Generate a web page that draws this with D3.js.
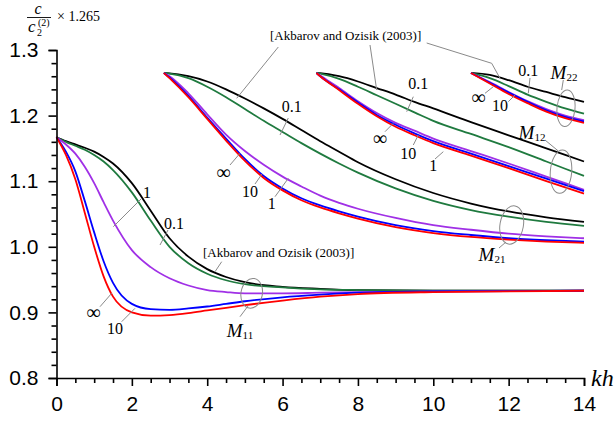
<!DOCTYPE html>
<html><head><meta charset="utf-8">
<script src="https://cdn.jsdelivr.net/npm/d3@7"></script>
<style>body{margin:0;background:#fff}svg{display:block}</style>
</head><body>
<svg id="chart" width="615" height="427"></svg>
<script>
// ---- data ----
const xTicks = [0,2,4,6,8,10,12,14];
const yTicks = [0.8,0.9,1.0,1.1,1.2,1.3];
const seriesNames = ["Akbarov and Ozisik (2003)","0.1","1","∞","10"];

// group M11
const khM11 = [0,0.25,0.5,0.75,1,1.25,1.5,2,2.5,3,3.5,4,4.5,5,6,7,8,10,14];
const m11Akbarov = [1.167,1.161,1.156,1.151,1.145,1.137,1.127,1.097,1.055,1.013,0.985,0.966,0.954,0.946,0.939,0.936,0.934,0.933,0.933];
const m11_01 = [1.167,1.160,1.154,1.148,1.140,1.130,1.117,1.083,1.040,1.000,0.975,0.959,0.949,0.943,0.938,0.935,0.934,0.933,0.933];
const m11_1 = [1.167,1.156,1.142,1.122,1.097,1.068,1.040,0.995,0.969,0.952,0.941,0.934,0.931,0.929,0.929,0.930,0.931,0.932,0.933];
const m11_inf = [1.167,1.145,1.115,1.070,1.022,0.978,0.945,0.913,0.905,0.904,0.906,0.909,0.913,0.917,0.923,0.927,0.930,0.932,0.933];
const m11_10 = [1.167,1.140,1.103,1.052,1.000,0.955,0.924,0.900,0.895,0.896,0.899,0.903,0.907,0.911,0.918,0.924,0.928,0.931,0.933];

// group M21
const khM21 = [2.85,3,3.5,4,4.5,5,5.5,6,6.5,7,7.5,8,9,10,11,12,13,14];
const m21Akbarov = [1.265,1.2645,1.260,1.252,1.240,1.226,1.211,1.195,1.178,1.161,1.145,1.129,1.103,1.082,1.066,1.054,1.045,1.038];
const m21_01 = [1.265,1.264,1.257,1.244,1.228,1.210,1.192,1.175,1.158,1.142,1.127,1.113,1.089,1.070,1.056,1.046,1.038,1.032];
const m21_1 = [1.265,1.260,1.234,1.202,1.171,1.146,1.125,1.107,1.092,1.078,1.067,1.058,1.044,1.033,1.026,1.020,1.016,1.013];
const m21_inf = [1.265,1.258,1.230,1.197,1.165,1.134,1.108,1.089,1.074,1.063,1.054,1.046,1.033,1.024,1.018,1.013,1.010,1.008];
const m21_10 = [1.265,1.257,1.228,1.195,1.162,1.131,1.105,1.086,1.071,1.060,1.051,1.043,1.030,1.021,1.015,1.011,1.008,1.006];

// group M12
const khM12 = [6.9,7,7.5,8,8.5,9,9.5,10,11,12,13,14];
const m12Akbarov = [1.265,1.2647,1.260,1.252,1.242,1.232,1.221,1.211,1.190,1.170,1.150,1.130];
const m12_01 = [1.265,1.264,1.256,1.244,1.231,1.218,1.205,1.192,1.172,1.152,1.130,1.108];
const m12_1 = [1.265,1.261,1.242,1.222,1.204,1.189,1.177,1.165,1.146,1.127,1.107,1.087];
const m12_inf = [1.265,1.260,1.240,1.220,1.201,1.186,1.173,1.161,1.142,1.123,1.104,1.085];
const m12_10 = [1.265,1.260,1.239,1.218,1.199,1.183,1.170,1.158,1.139,1.120,1.100,1.081];

// group M22
const khM22 = [11,11.5,12,12.5,13,13.5,14];
const m22Akbarov = [1.265,1.262,1.254,1.244,1.236,1.228,1.221];
const m22_01 = [1.265,1.257,1.245,1.232,1.221,1.211,1.203];
const m22_1 = [1.265,1.251,1.236,1.222,1.210,1.200,1.193];
const m22_inf = [1.265,1.250,1.235,1.221,1.208,1.198,1.191];
const m22_10 = [1.265,1.249,1.233,1.219,1.206,1.196,1.189];

const groups = [
  {kh: khM11, series: [m11Akbarov, m11_01, m11_1, m11_inf, m11_10]},
  {kh: khM21, series: [m21Akbarov, m21_01, m21_1, m21_inf, m21_10]},
  {kh: khM12, series: [m12Akbarov, m12_01, m12_1, m12_inf, m12_10]},
  {kh: khM22, series: [m22Akbarov, m22_01, m22_1, m22_inf, m22_10]}
];
const seriesColors = ["#000000","#1f7a3f","#a030e6","#0000ff","#ff0000"];

// ---- chart ----
const svg = d3.select("#chart");
const x = d3.scaleLinear().domain([0,14]).range([56.5,584]);
const y = d3.scaleLinear().domain([0.8,1.3]).range([378,50]);
const serif = "'Liberation Serif','Times New Roman',serif";
const sans = "'Liberation Sans',Arial,sans-serif";

// curves
const line = d3.line().x(d=>x(d[0])).y(d=>y(d[1])).curve(d3.curveMonotoneX);
groups.forEach(g=>{
  g.series.forEach((vals,i)=>{
    svg.append("path")
      .attr("d", line(g.kh.map((k,j)=>[k, vals[j]])))
      .attr("fill","none").attr("stroke",seriesColors[i]).attr("stroke-width",1.8);
  });
});

// axes
const xAxis = svg.append("g").attr("transform",`translate(0,${y(0.8)})`)
  .call(d3.axisBottom(x).tickValues(xTicks).tickFormat(d3.format("d")).tickSize(8).tickPadding(10));
const xMinor = svg.append("g").attr("transform",`translate(0,${y(0.8)})`)
  .call(d3.axisBottom(x).tickValues(d3.range(0,14.01,0.5).filter(v=>v%2!==0)).tickFormat("").tickSize(5));
const yAxis = svg.append("g").attr("transform",`translate(${x(0)},0)`)
  .call(d3.axisLeft(y).tickValues(yTicks).tickFormat(d3.format(".1f")).tickSize(8).tickPadding(10));
const yMinor = svg.append("g").attr("transform",`translate(${x(0)},0)`)
  .call(d3.axisLeft(y).tickValues(d3.range(0.82,1.3,0.02).filter(v=>Math.abs(v*10-Math.round(v*10))>0.01)).tickFormat("").tickSize(5));
[xAxis,xMinor,yAxis,yMinor].forEach(a=>{
  a.select(".domain").attr("stroke","#000").attr("stroke-width",1.6);
  a.selectAll(".tick line").attr("stroke","#000").attr("stroke-width",1.6);
  a.selectAll("text").attr("font-family",sans).attr("font-size",21).attr("fill","#000");
});
xMinor.select(".domain").remove(); yMinor.select(".domain").remove();

// axis titles
svg.append("text").attr("x",591).attr("y",386).attr("font-family",serif).attr("font-style","italic")
  .attr("font-size",24).text("kh");
const yt = svg.append("g");
yt.append("text").attr("x",38).attr("y",14).attr("text-anchor","middle").attr("font-family",serif)
  .attr("font-style","italic").attr("font-size",16).text("c");
yt.append("line").attr("x1",27).attr("x2",51).attr("y1",17.5).attr("y2",17.5).attr("stroke","#000").attr("stroke-width",0.9);
yt.append("text").attr("x",28).attr("y",32).attr("font-family",serif).attr("font-style","italic").attr("font-size",17).text("c");
yt.append("text").attr("x",37).attr("y",36).attr("font-family",serif).attr("font-size",10).text("2");
yt.append("text").attr("x",38).attr("y",26).attr("font-family",serif).attr("font-size",10).text("(2)");
yt.append("text").attr("x",57).attr("y",21).attr("font-family",serif).attr("font-size",14).text("× 1.265");

// annotations (layout only)
const ann = svg.append("g");
const gray = "#8a8a8a";
function lead(pts){ ann.append("path").attr("d", d3.line()(pts)).attr("fill","none").attr("stroke",gray).attr("stroke-width",1); }
function lab(t,cx,cy,size,anchor){ ann.append("text").attr("x",cx).attr("y",cy).attr("text-anchor",anchor||"middle")
  .attr("dominant-baseline","central").attr("font-family",serif).attr("font-size",size||16).text(t); }
function ell(cx,cy,rx,ry,rot){ ann.append("ellipse").attr("cx",cx).attr("cy",cy).attr("rx",rx).attr("ry",ry)
  .attr("transform",`rotate(${rot||0},${cx},${cy})`).attr("fill","none").attr("stroke",gray).attr("stroke-width",1); }
function mlab(sub,cx,cy){ const t=ann.append("text").attr("x",cx).attr("y",cy).attr("text-anchor","middle")
  .attr("dominant-baseline","central").attr("font-family",serif);
  t.append("tspan").attr("font-style","italic").attr("font-size",19).text("M");
  t.append("tspan").attr("font-size",11).attr("dy",5).text(sub); }

// M11
lab("1",147,192); lead([[141.7,198.3],[113.3,226.7]]);
lab("0.1",174,223); lead([[168,230],[160,245]]);
lab("[Akbarov and Ozisik (2003)]",203,252.7,13,"start"); lead([[221.7,261.7],[215,271.7]]);
ell(251.7,293.3,10.7,15,10); lead([[248,306],[240,316.7]]); mlab("11",240,330);
lab("∞",93.3,311.7,20); lead([[100,306.7],[111.7,293.3]]);
lab("10",115,328.3); lead([[121.7,321.7],[135,308.3]]);
// M21
lab("0.1",291.7,106.7); lead([[288.3,118],[280,135]]);
lab("∞",223.3,171.7,20); lead([[230,165],[240,153.3]]);
lab("10",250,191.7); lead([[255,184],[262,174]]);
lab("1",271.7,203.3); lead([[275,196.7],[288.3,178.3]]);
ell(511.7,225,11.7,19.3,10); lead([[506,242],[499,248]]); mlab("21",492,254);
lab("[Akbarov and Ozisik (2003)]",270,35,13,"start");
lead([[278.3,47],[236.7,98.3]]); lead([[370,45],[376.7,90]]); lead([[426.7,43],[491.7,63.3],[500,78.3]]);
// M12
lab("0.1",418.3,83.3); lead([[413.3,96.7],[406.7,111.7]]);
lab("∞",380,138.3,20); lead([[385,131.7],[393.3,123.3]]);
lab("10",408.3,153.3); lead([[413.3,145],[418.3,135]]);
lab("1",433.3,165); lead([[435,159],[443.3,151.7]]);
ell(561,171.7,10.7,21.7,5); lead([[545,140],[558.3,151]]); mlab("12",532,131.7);
// M22
lab("0.1",528.3,70); lead([[530,78],[528.3,93.3]]);
mlab("22",564,71.7); lead([[563.3,80],[561.7,90]]);
ell(566,108.3,9,18.3,5);
lab("∞",478.3,96.7,20); lead([[485,93.3],[493.3,86.7]]);
lab("10",500,105.7); lead([[508.3,101.7],[515,95]]);
</script>
</body></html>
